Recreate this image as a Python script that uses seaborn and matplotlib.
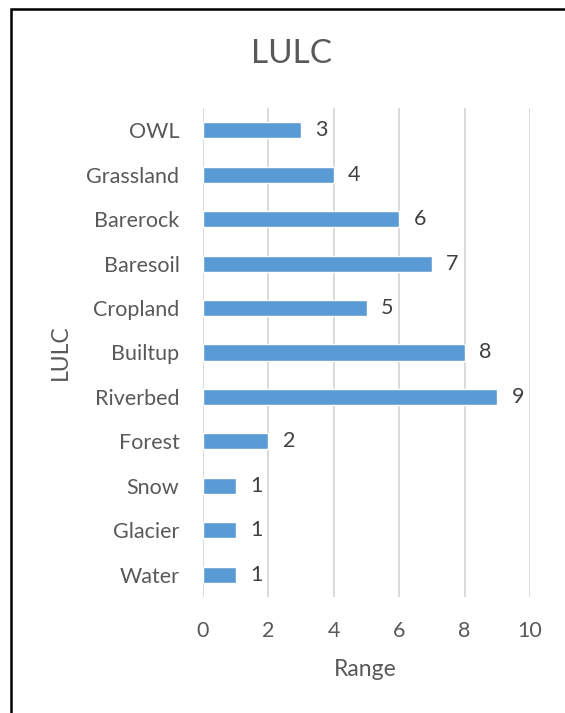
import matplotlib
matplotlib.use("Agg")
import matplotlib.pyplot as plt
import seaborn as sns
import pandas as pd
from matplotlib.patches import Rectangle

# LULC classes (top to bottom) and their range values
classes = ["OWL", "Grassland", "Barerock", "Baresoil", "Cropland", "Builtup",
           "Riverbed", "Forest", "Snow", "Glacier", "Water"]
values = [3, 4, 6, 7, 5, 8, 9, 2, 1, 1, 1]
x_ticks = [0, 2, 4, 6, 8, 10]

df = pd.DataFrame({"LULC": classes, "Range": values})

sns.set_theme(style="white")
plt.rcParams["font.family"] = ["Lato", "DejaVu Sans"]

text_col = "#595959"
bar_col = "#5B9BD5"
fs = 15.5

fig = plt.figure(figsize=(5.65, 7.13), dpi=100)
ax = fig.add_axes([203 / 565, 1 - 597 / 713, 327 / 565, 489 / 713])

sns.barplot(data=df, y="LULC", x="Range", order=classes, orient="h",
            color=bar_col, width=0.36, saturation=1, ax=ax)

# value labels to the right of each bar
for i, v in enumerate(values):
    ax.text(v + 0.63, i, str(v), va="center", ha="center",
            fontsize=fs, color="#404040")

ax.set_xlim(0, 10)
ax.set_ylim(len(classes) - 0.5, -0.5)
ax.set_xticks(x_ticks)
ax.set_xticklabels([str(t) for t in x_ticks], fontsize=fs, color=text_col)
ax.tick_params(axis="y", labelsize=fs, labelcolor=text_col, length=0, pad=17)
ax.tick_params(axis="x", length=0, pad=17)
ax.grid(axis="x", color="#d9d9d9", linewidth=1.4)
ax.set_axisbelow(True)
for s in ax.spines.values():
    s.set_visible(False)

ax.set_xlabel("Range", fontsize=16.5, color=text_col)
ax.set_ylabel("LULC", fontsize=16.5, color=text_col)
ax.xaxis.set_label_coords(0.497, (597 - 659) / 489)
ax.yaxis.set_label_coords((71 - 203) / 327, 0.5)

fig.text(292 / 565, 1 - 54 / 713, "LULC", ha="center", va="center",
         fontsize=24, color=text_col)

# outer frame of the chart area
fig.patches.append(Rectangle((10.5 / 565, -0.1), 1.2, 1 - 8.5 / 713 + 0.1,
                             transform=fig.transFigure, fill=False,
                             edgecolor="black", linewidth=1.8))

fig.savefig("out.png", dpi=100)
